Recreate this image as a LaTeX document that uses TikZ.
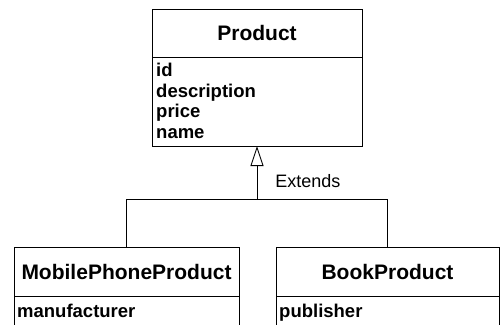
\documentclass[tikz,border=0pt]{standalone}
\usepackage{fontspec}
\setmainfont{Liberation Sans}
\usepackage{tikz}
\usetikzlibrary{positioning, arrows.meta, calc}

\begin{document}
\begin{tikzpicture}[
  classtitle/.style={draw, line width=0.9pt, outer sep=0pt, inner sep=0pt,
    font=\fontsize{21}{24}\selectfont\bfseries},
  classattr/.style={draw, line width=0.9pt, outer sep=0pt, inner sep=0pt},
  attrtext/.style={inner sep=0pt, anchor=north west, align=left,
    font=\fontsize{18.5}{20.5}\selectfont\bfseries},
  extends/.style={line width=0.9pt, -{Triangle[open, width=13pt, length=20pt, line width=0.9pt]}},
  link/.style={line width=0.9pt}
]
\useasboundingbox (0,0) rectangle (500pt,-324pt);
\clip (0,0) rectangle (500pt,-324pt);

% Product
\node[classtitle, minimum width=210pt, minimum height=48pt] (product) at (257pt,-33pt) {Product};
\node[classattr, minimum width=210pt, minimum height=89pt, below=0pt of product] (productattr) {};
\node[attrtext, below right=6pt and 4pt of productattr.north west] (productlist) {id\\description\\price\\name};

% Subclasses
\node[classtitle, minimum width=225pt, minimum height=49pt] (mobile) at (126.5pt,-271.5pt) {MobilePhoneProduct};
\node[classattr, minimum width=225pt, minimum height=60pt, below=0pt of mobile] (mobileattr) {};
\node[attrtext, below right=8pt and 3pt of mobileattr.north west] (mobilelist) {manufacturer};

\node[classtitle, minimum width=223pt, minimum height=49pt] (book) at (387.5pt,-271.5pt) {BookProduct};
\node[classattr, minimum width=223pt, minimum height=60pt, below=0pt of book] (bookattr) {};
\node[attrtext, below right=8pt and 3pt of bookattr.north west] (booklist) {publisher};

% Inheritance
\coordinate[below=53pt of productattr.south] (fork);
\draw[extends] (fork) -- node[pos=0.34, right=18pt, inner sep=0pt, font=\fontsize{18}{20}\selectfont] (extlabel) {Extends} (productattr.south);
\draw[link] (fork) -| (mobile.north);
\draw[link] (fork) -| (book.north);
\end{tikzpicture}
\end{document}
